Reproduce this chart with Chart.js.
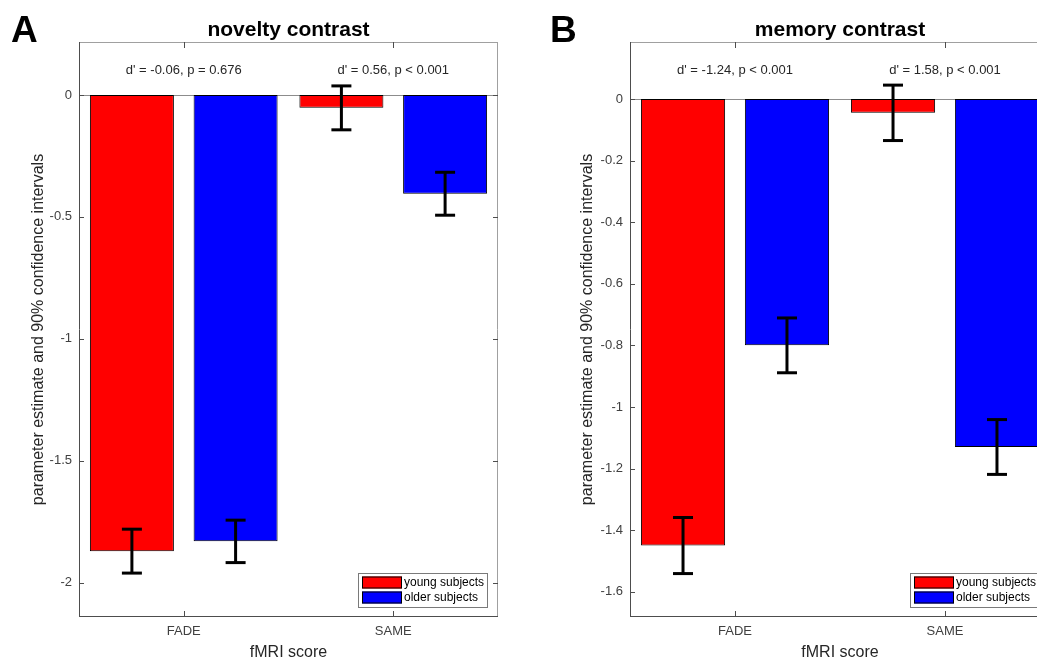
<!DOCTYPE html>
<html>
<head>
<meta charset="utf-8">
<script src="https://cdn.jsdelivr.net/npm/chart.js@4.4.1/dist/chart.umd.min.js"></script>
<style>
  html, body { margin: 0; padding: 0; background: #fff; overflow: hidden; width: 1037px; height: 658px; }
  .panel { position: absolute; top: 0; }
</style>
</head>
<body>
<div class="panel" style="left:0px"><canvas id="chartA" width="518" height="658"></canvas></div>
<div class="panel" style="left:518px"><canvas id="chartB" width="560" height="658"></canvas></div>
<script>
const FONT = "'Liberation Sans', Arial, sans-serif";

const categories = ['FADE', 'SAME'];
const seriesNames = ['young subjects', 'older subjects'];
const seriesColors = ['#ff0000', '#0000ff'];

// A: novelty contrast
const noveltyYoung = [-1.87, -0.053];
const noveltyYoungErr = [0.09, 0.09];
const noveltyOlder = [-1.83, -0.405];
const noveltyOlderErr = [0.087, 0.088];
const noveltyTicks = [0, -0.5, -1, -1.5, -2];
const noveltyStats = ["d' = -0.06, p = 0.676", "d' = 0.56, p < 0.001"];

// B: memory contrast
const memoryYoung = [-1.45, -0.045];
const memoryYoungErr = [0.091, 0.09];
const memoryOlder = [-0.80, -1.13];
const memoryOlderErr = [0.089, 0.089];
const memoryTicks = [0, -0.2, -0.4, -0.6, -0.8, -1, -1.2, -1.4, -1.6];
const memoryStats = ["d' = -1.24, p < 0.001", "d' = 1.58, p < 0.001"];

function line(ctx, x1, y1, x2, y2) {
  ctx.beginPath();
  ctx.moveTo(x1, y1);
  ctx.lineTo(x2, y2);
  ctx.stroke();
}

const panelPlugin = {
  id: 'panel',
  beforeDatasetsDraw(chart) {
    const { ctx, chartArea: a, scales: { y } } = chart;
    const y0 = Math.round(y.getPixelForValue(0)) + 0.5;
    ctx.save();
    ctx.strokeStyle = '#8c8c8c';
    ctx.lineWidth = 1;
    line(ctx, a.left, y0, a.right, y0);
    ctx.restore();
  },
  afterDatasetsDraw(chart) {
    const { ctx, scales: { y } } = chart;
    ctx.save();
    ctx.strokeStyle = '#000';
    ctx.lineWidth = 3;
    chart.data.datasets.forEach((ds, i) => {
      chart.getDatasetMeta(i).data.forEach((bar, j) => {
        const top = y.getPixelForValue(ds.data[j] + ds.err[j]);
        const bot = y.getPixelForValue(ds.data[j] - ds.err[j]);
        line(ctx, bar.x, top, bar.x, bot);
        line(ctx, bar.x - 10, top, bar.x + 10, top);
        line(ctx, bar.x - 10, bot, bar.x + 10, bot);
      });
    });
    ctx.restore();
  },
  afterDraw(chart, args, opts) {
    const { ctx, chartArea: a, scales: { x, y } } = chart;
    ctx.save();

    // axes box with inward ticks
    ctx.lineWidth = 1;
    ctx.strokeStyle = '#a0a0a0';
    line(ctx, a.left, a.top + 0.5, a.right, a.top + 0.5);
    line(ctx, a.right - 0.5, a.top, a.right - 0.5, a.bottom);
    ctx.strokeStyle = '#4d4d4d';
    line(ctx, a.left + 0.5, a.top, a.left + 0.5, a.bottom);
    line(ctx, a.left, a.bottom - 0.5, a.right, a.bottom - 0.5);
    y.ticks.forEach(t => {
      const py = Math.round(y.getPixelForValue(t.value)) + 0.5;
      line(ctx, a.left, py, a.left + 5, py);
      line(ctx, a.right, py, a.right - 5, py);
    });
    categories.forEach((c, i) => {
      const px = Math.round(x.getPixelForValue(i)) + 0.5;
      line(ctx, px, a.bottom, px, a.bottom - 6);
      line(ctx, px, a.top, px, a.top + 6);
    });

    // stats above each group
    ctx.fillStyle = '#262626';
    ctx.font = '13px ' + FONT;
    ctx.textAlign = 'center';
    ctx.textBaseline = 'middle';
    opts.stats.forEach((s, i) => {
      ctx.fillText(s, x.getPixelForValue(i), a.top + 28);
    });

    // title and panel letter
    ctx.fillStyle = '#000';
    ctx.font = 'bold 21px ' + FONT;
    ctx.textBaseline = 'alphabetic';
    ctx.fillText(opts.title, (a.left + a.right) / 2, 36);
    ctx.font = 'bold 37px ' + FONT;
    ctx.textAlign = 'left';
    ctx.fillText(opts.letter, opts.letterX, 42);

    // legend in lower right corner
    const w = 130, h = 35;
    const lx = a.right - 10 - w, ly = a.bottom - 9 - h;
    ctx.fillStyle = '#fff';
    ctx.fillRect(lx, ly, w, h);
    ctx.strokeStyle = '#7a7a7a';
    ctx.strokeRect(lx + 0.5, ly + 0.5, w - 1, h - 1);
    ctx.font = '12px ' + FONT;
    ctx.textBaseline = 'middle';
    chart.data.datasets.forEach((ds, i) => {
      const py = ly + 3.5 + i * 15;
      ctx.fillStyle = ds.backgroundColor;
      ctx.fillRect(lx + 4, py, 40, 12);
      ctx.strokeStyle = '#000';
      ctx.strokeRect(lx + 4.5, py + 0.5, 39, 11);
      ctx.fillStyle = '#000';
      ctx.fillText(ds.label, lx + 46, py + 6);
    });
    ctx.restore();
  }
};

function makeChart(id, young, youngErr, older, olderErr, ticks, min, max, o) {
  return new Chart(document.getElementById(id), {
    type: 'bar',
    data: {
      labels: categories,
      datasets: [
        { label: seriesNames[0], data: young, err: youngErr, backgroundColor: seriesColors[0],
          borderColor: '#000', borderWidth: 1, borderSkipped: false },
        { label: seriesNames[1], data: older, err: olderErr, backgroundColor: seriesColors[1],
          borderColor: '#000', borderWidth: 1, borderSkipped: false }
      ]
    },
    options: {
      responsive: false,
      animation: false,
      events: [],
      layout: { padding: { left: 0, right: o.padRight, top: 42, bottom: 0 } },
      categoryPercentage: 0.99,
      barPercentage: 0.81,
      scales: {
        x: {
          grid: { display: false, drawTicks: false },
          border: { display: false },
          ticks: { color: '#404040', font: { family: FONT, size: 13 }, padding: 7 },
          title: { display: true, text: 'fMRI score', color: '#262626',
                   font: { family: FONT, size: 16, lineHeight: 1 }, padding: { top: 0, bottom: -3 } },
          afterFit: s => { s.height = 41; }
        },
        y: {
          min: min,
          max: max,
          grid: { display: false, drawTicks: false },
          border: { display: false },
          afterBuildTicks: s => { s.ticks = ticks.map(v => ({ value: v })); },
          ticks: { color: '#404040', font: { family: FONT, size: 13 }, padding: 7,
                   callback: v => String(v) },
          title: { display: true, text: 'parameter estimate and 90% confidence intervals', color: '#262626',
                   font: { family: FONT, size: 16, lineHeight: 1.2 }, padding: { top: o.titlePad, bottom: 0 } },
          afterFit: s => { s.width = o.axisWidth; }
        }
      },
      plugins: {
        legend: { display: false },
        tooltip: { enabled: false },
        panel: { title: o.title, letter: o.letter, letterX: o.letterX, stats: o.stats }
      }
    },
    plugins: [panelPlugin]
  });
}

makeChart('chartA', noveltyYoung, noveltyYoungErr, noveltyOlder, noveltyOlderErr, noveltyTicks, -2.14, 0.217,
  { padRight: 20, axisWidth: 79, titlePad: 29, title: 'novelty contrast', letter: 'A', letterX: 11, stats: noveltyStats });
makeChart('chartB', memoryYoung, memoryYoungErr, memoryOlder, memoryOlderErr, memoryTicks, -1.682, 0.185,
  { padRight: 28, axisWidth: 112, titlePad: 60, title: 'memory contrast', letter: 'B', letterX: 32, stats: memoryStats });
</script>
</body>
</html>
